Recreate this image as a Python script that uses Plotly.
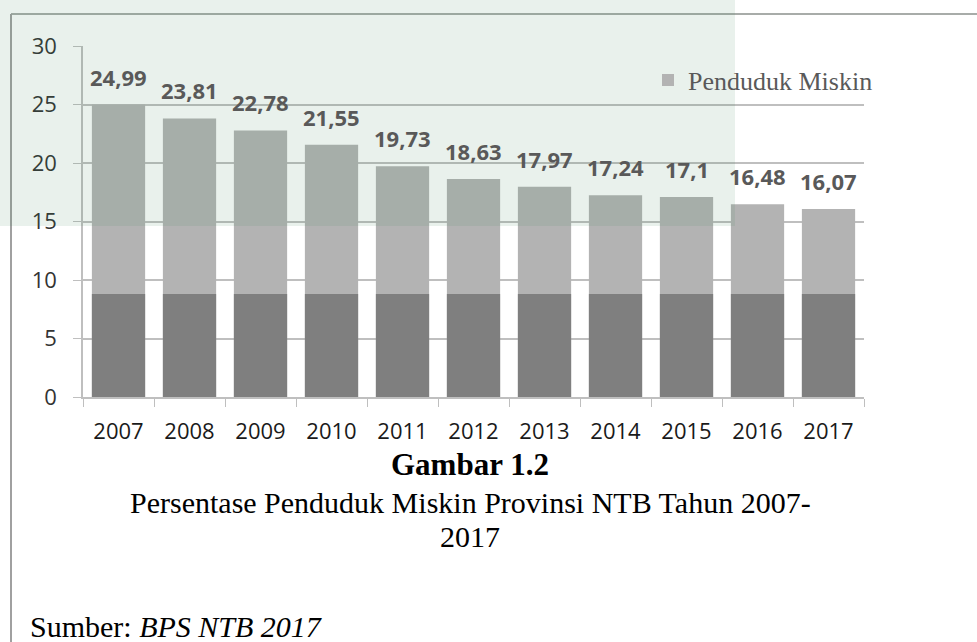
import plotly.graph_objects as go

# ---- data ----
years = ["2007", "2008", "2009", "2010", "2011", "2012", "2013", "2014", "2015", "2016", "2017"]
poverty = [24.99, 23.81, 22.78, 21.55, 19.73, 18.63, 17.97, 17.24, 17.1, 16.48, 16.07]
y_ticks = [0, 5, 10, 15, 20, 25, 30]
series_name = "Penduduk Miskin"
caption_title = "Gambar 1.2"
caption_line1 = "Persentase Penduduk Miskin Provinsi NTB Tahun 2007-"
caption_line2 = "2017"
source_label = "Sumber: "
source_text = "BPS NTB 2017"

# style constants (scan artefact: darker lower band on the bars)
BAND_TOP = 8.8

W, H = 977, 642
x0, x1 = 83 / W, 864 / W
y0, y1 = (H - 397) / H, (H - 46) / H

fig = go.Figure()
fig.add_trace(go.Bar(
    x=years, y=poverty, name=series_name,
    marker=dict(color="#b3b3b3", line=dict(width=0)),
    showlegend=True,
))
fig.add_trace(go.Bar(
    x=years, y=[min(v, BAND_TOP) for v in poverty],
    marker=dict(color="#7f7f7f", line=dict(width=0)),
    showlegend=False, hoverinfo="skip",
))

# data labels (category index positions)
for i, v in enumerate(poverty):
    fig.add_annotation(
        x=i, y=v, text=f"<b>{v:g}</b>".replace(".", ","),
        showarrow=False, yanchor="bottom", yshift=11,
        font=dict(family="Open Sans", size=22, color="#595959"),
    )

# captions
serif = "Liberation Serif"
fig.add_annotation(x=470 / W, y=1 - 464 / H, xref="paper", yref="paper",
                   text=f"<b>{caption_title}</b>", showarrow=False,
                   xanchor="center", yanchor="middle",
                   font=dict(family=serif, size=31, color="#000000"))
fig.add_annotation(x=470 / W, y=1 - 502 / H, xref="paper", yref="paper",
                   text=caption_line1, showarrow=False,
                   xanchor="center", yanchor="middle",
                   font=dict(family=serif, size=30, color="#000000"))
fig.add_annotation(x=470 / W, y=1 - 536 / H, xref="paper", yref="paper",
                   text=caption_line2, showarrow=False,
                   xanchor="center", yanchor="middle",
                   font=dict(family=serif, size=30, color="#000000"))
fig.add_annotation(x=28 / W, y=1 - 626 / H, xref="paper", yref="paper",
                   text=f"{source_label}<i>{source_text}</i>", showarrow=False,
                   xanchor="left", yanchor="middle",
                   font=dict(family=serif, size=30, color="#000000"))

# document frame lines and watermark tint
fig.add_shape(type="line", xref="paper", yref="paper",
              x0=11 / W, x1=1, y0=1 - 14 / H, y1=1 - 14 / H,
              line=dict(color="#a8aca9", width=2))
fig.add_shape(type="line", xref="paper", yref="paper",
              x0=11 / W, x1=11 / W, y0=1 - 14 / H, y1=0,
              line=dict(color="#a0a0a0", width=2))
fig.add_shape(type="rect", xref="paper", yref="paper",
              x0=0, x1=735 / W, y0=1 - 226 / H, y1=1,
              fillcolor="rgba(70,140,100,0.12)", line=dict(width=0), layer="above")

fig.update_layout(
    width=W, height=H, autosize=False,
    margin=dict(l=0, r=0, t=0, b=0, pad=0, autoexpand=False),
    paper_bgcolor="#ffffff", plot_bgcolor="rgba(0,0,0,0)",
    barmode="overlay", bargap=0.25,
    legend=dict(x=648 / W, y=1 - 80 / H, xanchor="left", yanchor="middle",
                bgcolor="rgba(0,0,0,0)", itemwidth=30,
                font=dict(family=serif, size=26, color="#595959")),
    xaxis=dict(domain=[x0, x1], type="category", range=[-0.5, len(years) - 0.5],
               automargin=False,
               tickson="boundaries", ticks="outside", ticklen=8, tickcolor="#bfbfbf",
               showline=True, linecolor="#bfbfbf", linewidth=1.5, showgrid=False,
               ticklabelstandoff=14,
               tickfont=dict(family="Open Sans", size=22, color="#1a1a1a")),
    yaxis=dict(domain=[y0, y1], range=[0, 30], tickvals=y_ticks,
               automargin=False,
               ticks="outside", ticklen=8, tickcolor="#bfbfbf",
               showline=True, linecolor="#bfbfbf", linewidth=1.5,
               showgrid=True, gridcolor="#bfbfbf", gridwidth=1.5, zeroline=False,
               ticklabelstandoff=12,
               tickfont=dict(family="Open Sans", size=22, color="#333333")),
)

fig.write_html("out.html")
